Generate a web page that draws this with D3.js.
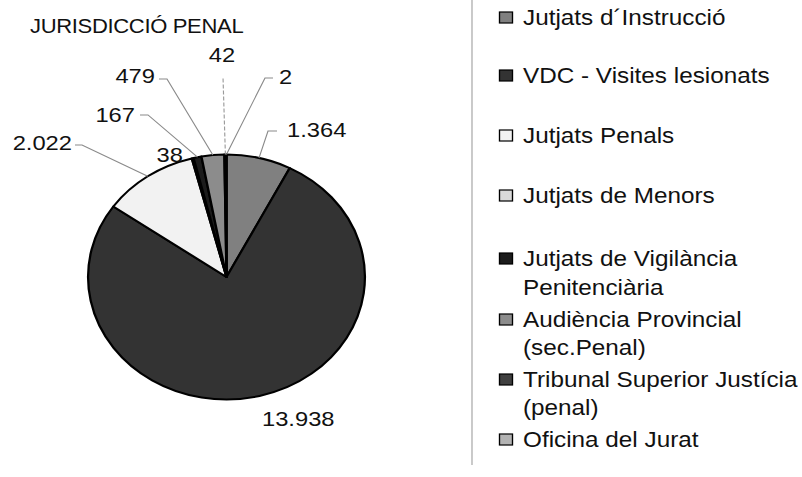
<!DOCTYPE html>
<html>
<head>
<meta charset="utf-8">
<script src="https://cdn.jsdelivr.net/npm/d3@7"></script>
<style>
  html, body { margin: 0; padding: 0; background: #ffffff; }
  svg { display: block; }
  text { font-family: "Liberation Sans", Arial, sans-serif; fill: #111; }
</style>
</head>
<body>
<div id="chart"></div>
<script>
// ---- data ----
const title = "JURISDICCIÓ PENAL";
const categories = [
  "Jutjats d´Instrucció",
  "VDC - Visites lesionats",
  "Jutjats Penals",
  "Jutjats de Menors",
  "Jutjats de Vigilància Penitenciària",
  "Audiència Provincial (sec.Penal)",
  "Tribunal Superior Justícia (penal)",
  "Oficina del Jurat"
];
const legendLines = [
  ["Jutjats d´Instrucció"],
  ["VDC - Visites lesionats"],
  ["Jutjats Penals"],
  ["Jutjats de Menors"],
  ["Jutjats de Vigilància", "Penitenciària"],
  ["Audiència Provincial", "(sec.Penal)"],
  ["Tribunal Superior Justícia", "(penal)"],
  ["Oficina del Jurat"]
];
const values = [1364, 13938, 2022, 38, 167, 479, 42, 2];
const valueLabels = ["1.364", "13.938", "2.022", "38", "167", "479", "42", "2"];
const colors = ["#808080", "#333333", "#f2f2f2", "#d9d9d9", "#1c1c1c", "#8c8c8c", "#404040", "#b3b3b3"];

// ---- layout (image pixels) ----
const W = 802, H = 477;
const SX = 1.13;              // horizontal stretch of the whole picture
const fx = x => x / SX;
const cx = 226.5, cy = 277, R = 122.5;

// label layout: text anchor position + leader path (elbow & end), image px
const labelLayout = [
  {tx: 287, ty: 137, anchor: "start", elbow: [268, 131], end: [277, 131]},
  {tx: 262, ty: 426, anchor: "start"},
  {tx: 72,  ty: 150, anchor: "end",   elbow: [82, 145],  end: [75, 145]},
  {tx: 183, ty: 162, anchor: "end"},
  {tx: 135, ty: 122, anchor: "end",   elbow: [148, 115], end: [140, 115]},
  {tx: 155, ty: 83,  anchor: "end",   elbow: [167, 79],  end: [159, 79]},
  {tx: 222, ty: 62,  anchor: "middle", elbow: [223, 77], end: [223, 77], dashed: true},
  {tx: 279, ty: 84,  anchor: "start", elbow: [265, 78],  end: [273, 78]}
];
const legendBaselines = [[25], [83], [143], [203], [266, 295], [327, 355], [387, 415], [447]];

const svg = d3.select("#chart").append("svg")
  .attr("width", W).attr("height", H)
  .attr("viewBox", `0 0 ${W / SX} ${H}`)
  .attr("preserveAspectRatio", "none");

// title
svg.append("text")
  .attr("x", fx(30)).attr("y", 33)
  .attr("font-size", 19.5)
  .attr("letter-spacing", -0.3)
  .text(title);

// pie
const pie = d3.pie().value(d => d).sort(null).startAngle(0).endAngle(2 * Math.PI);
const arcs = pie(values);
const arc = d3.arc().innerRadius(0).outerRadius(R);

const gPie = svg.append("g").attr("transform", `translate(${fx(cx)},${cy})`);
gPie.selectAll("path.slice").data(arcs).join("path")
  .attr("class", "slice")
  .attr("d", arc)
  .attr("fill", (d, i) => colors[i])
  .attr("stroke", "#000")
  .attr("stroke-width", 2)
  .attr("stroke-linejoin", "round");

// leader lines and value labels
const edgePoint = d => {
  const a = (d.startAngle + d.endAngle) / 2;
  return [fx(cx) + R * Math.sin(a), cy - R * Math.cos(a)];
};
arcs.forEach((d, i) => {
  const L = labelLayout[i];
  if (L.elbow) {
    const p0 = edgePoint(d);
    const pts = [p0, [fx(L.elbow[0]), L.elbow[1]], [fx(L.end[0]), L.end[1]]];
    svg.append("path")
      .attr("d", d3.line()(pts))
      .attr("fill", "none")
      .attr("stroke", L.dashed ? "#9a9a9a" : "#8a8a8a")
      .attr("stroke-width", 1)
      .attr("stroke-dasharray", L.dashed ? "4,2" : null);
  }
  svg.append("text")
    .attr("x", fx(L.tx)).attr("y", L.ty)
    .attr("text-anchor", L.anchor)
    .attr("font-size", 21)
    .text(valueLabels[i]);
});

// separator line
svg.append("line")
  .attr("x1", fx(472)).attr("x2", fx(472))
  .attr("y1", 0).attr("y2", 465)
  .attr("stroke", "#a0a0a0").attr("stroke-width", 1);

// legend
const gLeg = svg.append("g");
categories.forEach((c, i) => {
  const lines = legendLines[i];
  const b = legendBaselines[i];
  gLeg.append("rect")
    .attr("x", fx(499.5)).attr("y", b[0] - 13)
    .attr("width", fx(512.5) - fx(499.5)).attr("height", 11)
    .attr("fill", colors[i])
    .attr("stroke", "#000").attr("stroke-width", 1.2);
  lines.forEach((t, k) => {
    gLeg.append("text")
      .attr("x", fx(523)).attr("y", b[k])
      .attr("font-size", 21.5)
      .text(t);
  });
});
</script>
</body>
</html>
